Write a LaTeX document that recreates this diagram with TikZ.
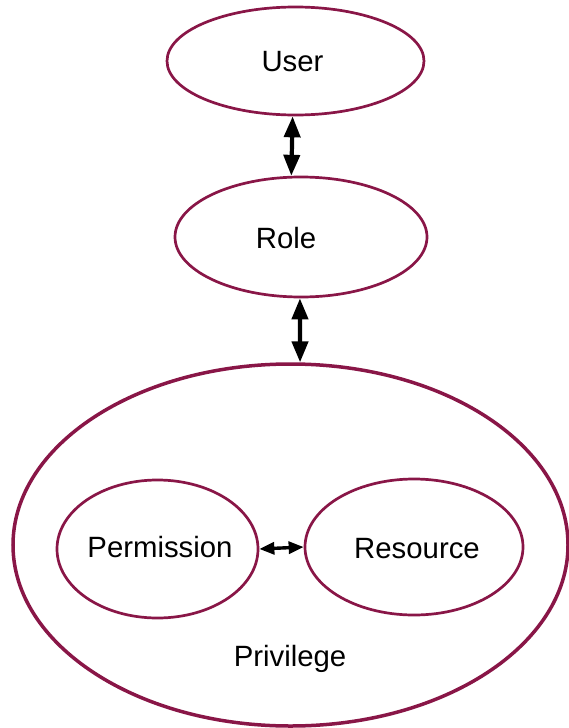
\documentclass[tikz,border=0pt]{standalone}
\usepackage{fontspec}
\setmainfont{Liberation Sans}
\usetikzlibrary{arrows.meta,shapes.geometric}
\definecolor{wine}{RGB}{137,22,71}
\newcommand{\px}{0.75pt}
\tikzset{
  ell/.style={draw=wine, line width=2.7*\px, ellipse, inner sep=0pt},
  bigell/.style={draw=wine, line width=3.5*\px, ellipse, inner sep=0pt},
  lbl/.style={anchor=base, font=\fontsize{22pt}{26pt}\selectfont, inner sep=0pt},
  dbl/.style={line width=4.2*\px, {Triangle[length=21*\px,width=16*\px]}-{Triangle[length=21*\px,width=16*\px]}},
  dblsmall/.style={line width=3.4*\px, {Triangle[length=15*\px,width=12*\px]}-{Triangle[length=15*\px,width=12*\px]}}
}
\begin{document}
\begin{tikzpicture}[x=0.75pt, y=-0.75pt]
  \useasboundingbox (0,0) rectangle (568,728);

  % outer privilege container and its two parts
  \node[bigell, minimum width=555*\px, minimum height=362*\px] (priv) at (290.5,545) {};
  \node[ell, minimum width=201*\px, minimum height=138*\px] (perm) at (157.5,549) {};
  \node[ell, minimum width=218*\px, minimum height=136*\px] (res) at (414,547) {};

  % user and role
  \node[ell, minimum width=257*\px, minimum height=108*\px] (user) at (295.5,61) {};
  \node[ell, minimum width=252*\px, minimum height=120*\px] (role) at (301,237) {};

  % labels
  \node[lbl] (userlbl) at (292.5,71) {User};
  \node[lbl] (rolelbl) at (286,248) {Role};
  \node[lbl] (permlbl) at (160,557) {Permission};
  \node[lbl] (reslbl) at (417,558) {Resource};
  \node[lbl] (privlbl) at (290,666) {Privilege};

  % associations
  \draw[dbl] (user.267.3) -- (role.99.5);
  \draw[dbl] (role.269) -- (priv.87.6);
  \draw[dblsmall] (perm.east) -- (res.180.5);
\end{tikzpicture}
\end{document}
